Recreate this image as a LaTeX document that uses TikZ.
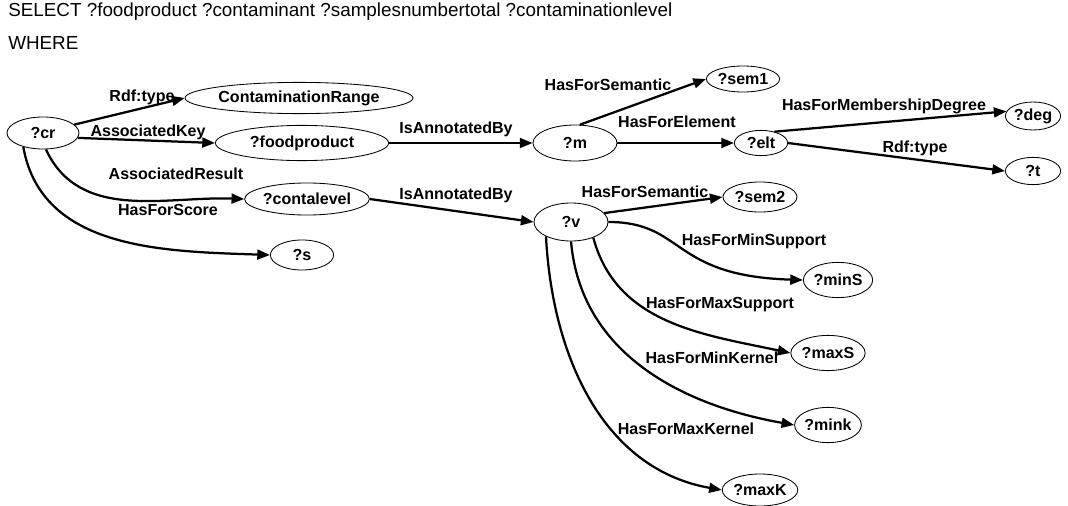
\documentclass[tikz,border=0pt]{standalone}
\usepackage{fontspec}
\setmainfont{Liberation Sans}
\usetikzlibrary{shapes.geometric,arrows.meta}

\begin{document}
\begin{tikzpicture}[x=0.025cm, y=0.025cm, inner sep=0mm,
  place/.style={ellipse,draw,line width=0.6pt,font=\fontsize{11.4}{13}\bfseries\selectfont},
  lbl/.style={font=\fontsize{11.4}{13}\bfseries\selectfont},
  rel/.style={line width=1.6pt,-{Triangle[length=9pt,width=7pt]}}]
\useasboundingbox (0,0) rectangle (1068,-506);
\node[anchor=base west,font=\fontsize{13.4}{15}\selectfont] (sel) at (8,-17) {SELECT ?foodproduct ?contaminant ?samplesnumbertotal ?contaminationlevel};
\node[anchor=base west,font=\fontsize{13.4}{15}\selectfont] (where) at (8,-49) {WHERE};

\node[place,minimum width=1.8cm,minimum height=0.8cm] (cr) at (43,-133) {?cr};
\node[place,minimum width=4.2cm,minimum height=0.78cm] (crange) at (299,-98) {ContaminationRange};
\node[place,minimum width=4.33cm,minimum height=0.88cm] (food) at (302,-143) {?foodproduct};
\node[place,minimum width=2.75cm,minimum height=0.8cm] (conta) at (307,-199) {?contalevel};
\node[place,minimum width=1.58cm,minimum height=0.75cm] (s) at (302,-255) {?s};
\node[place,minimum width=2.1cm,minimum height=0.9cm] (m) at (575,-143) {?m};
\node[place,minimum width=1.83cm,minimum height=0.65cm] (sem1) at (743,-79) {?sem1};
\node[place,minimum width=1.33cm,minimum height=0.63cm] (elt) at (761,-143) {?elt};
\node[place,minimum width=1.38cm,minimum height=0.7cm] (deg) at (1033,-116) {?deg};
\node[place,minimum width=1.38cm,minimum height=0.68cm] (t) at (1033,-171) {?t};
\node[place,minimum width=1.85cm,minimum height=0.95cm] (v) at (571,-222) {?v};
\node[place,minimum width=1.85cm,minimum height=0.75cm] (sem2) at (760,-197) {?sem2};
\node[place,minimum width=1.6cm,minimum height=0.88cm] (mins) at (838,-280) {?minS};
\node[place,minimum width=1.55cm,minimum height=0.88cm] (maxs) at (828,-353) {?maxS};
\node[place,minimum width=1.55cm,minimum height=0.88cm] (mink) at (828,-425) {?mink};
\node[place,minimum width=1.8cm,minimum height=0.8cm] (maxk) at (760,-490) {?maxK};

\node[lbl] (l1) at (142,-97) {Rdf:type};
\node[lbl] (l2) at (148,-132) {AssociatedKey};
\node[lbl] (l3) at (176,-174) {AssociatedResult};
\node[lbl] (l4) at (168,-210) {HasForScore};
\node[lbl] (l5) at (456,-129) {IsAnnotatedBy};
\node[lbl] (l6) at (456,-195) {IsAnnotatedBy};
\node[lbl] (l7) at (608,-85) {HasForSemantic};
\node[lbl] (l8) at (677,-122) {HasForElement};
\node[lbl] (l9) at (884,-106) {HasForMembershipDegree};
\node[lbl] (l10) at (915,-148) {Rdf:type};
\node[lbl] (l11) at (645,-192) {HasForSemantic};
\node[lbl] (l12) at (754,-241) {HasForMinSupport};
\node[lbl] (l13) at (720,-305) {HasForMaxSupport};
\node[lbl] (l14) at (712,-358) {HasForMinKernel};
\node[lbl] (l15) at (686,-429) {HasForMaxKernel};

\draw[rel]  (cr.15) -- (crange.west);
\draw[rel]  (cr.-8) -- (food.west);
\draw[rel]  (cr.-80) to[out=-65,in=178] (conta.west);
\draw[rel]  (cr.215) to[out=-80,in=178] (s.west);
\draw[rel]  (food.east) -- (m.west);
\draw[rel]  (conta.east) -- (v.west);
\draw[rel]  (m.75) -- (sem1.west);
\draw[rel]  (m.east) -- (elt.west);
\draw[rel]  (elt.40) -- (deg.170);
\draw[rel]  (elt.east) -- (t.west);
\draw[rel]  (v.15) -- (sem2.west);
\draw[rel]  (v.east) .. controls (685,-222) and (670,-276) .. (mins.west);
\draw[rel]  (v.-35) to[out=-75,in=168] (maxs.west);
\draw[rel]  (v.south) to[out=-85,in=170] (mink.west);
\draw[rel]  (v.210) to[out=-87,in=170] (maxk.west);
\end{tikzpicture}
\end{document}
